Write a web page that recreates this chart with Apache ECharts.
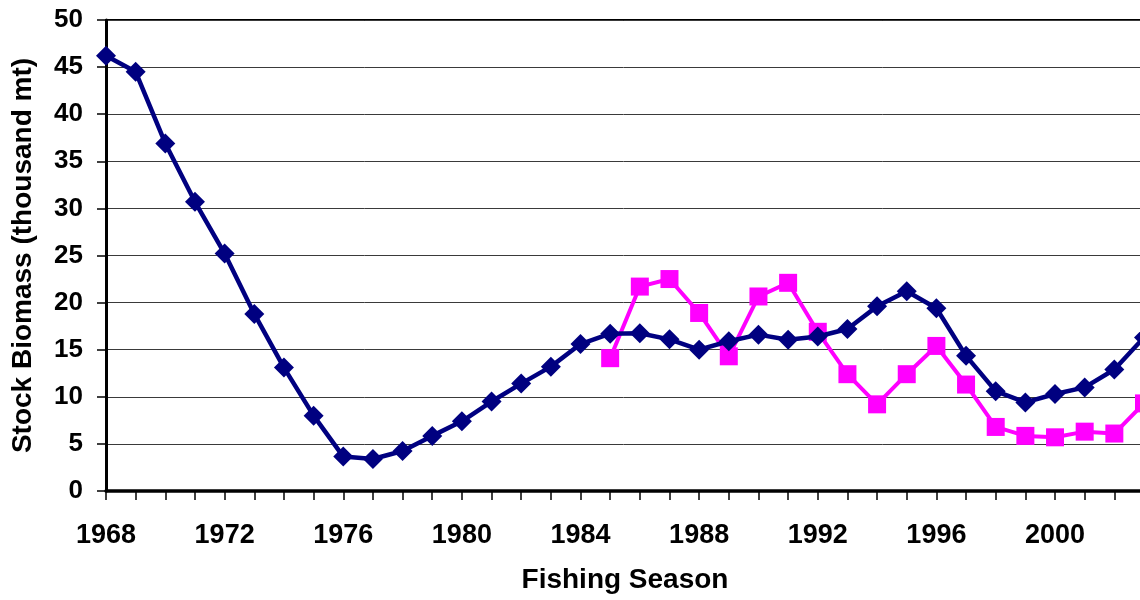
<!DOCTYPE html>
<html>
<head>
<meta charset="utf-8">
<script src="https://cdn.jsdelivr.net/npm/echarts@6/dist/echarts.min.js"></script>
<style>
  html, body { margin: 0; padding: 0; background: #fff; }
  #chart { width: 1140px; height: 600px; }
</style>
</head>
<body>
<div id="chart"></div>
<script>
// Fishing seasons 1968-2003
var years = [1968, 1969, 1970, 1971, 1972, 1973, 1974, 1975, 1976, 1977,
             1978, 1979, 1980, 1981, 1982, 1983, 1984, 1985, 1986, 1987,
             1988, 1989, 1990, 1991, 1992, 1993, 1994, 1995, 1996, 1997,
             1998, 1999, 2000, 2001, 2002, 2003];

// Stock biomass, model estimate (thousand mt)
var modelBiomass = [46.2, 44.5, 36.9, 30.7, 25.2, 18.8, 13.1, 8.0, 3.65, 3.4,
                    4.25, 5.85, 7.4, 9.5, 11.4, 13.2, 15.6, 16.7, 16.75, 16.1,
                    15.0, 15.9, 16.6, 16.05, 16.4, 17.2, 19.6, 21.2, 19.4, 14.35,
                    10.6, 9.4, 10.3, 11.0, 12.9, 16.3];

// Stock biomass, survey estimate from 1985 on (thousand mt)
var surveyYears = [1985, 1986, 1987, 1988, 1989, 1990, 1991, 1992, 1993, 1994,
                   1995, 1996, 1997, 1998, 1999, 2000, 2001, 2002, 2003];
var surveyBiomass = [14.1, 21.7, 22.5, 18.9, 14.3, 20.65, 22.1, 16.9, 12.4, 9.2,
                     12.4, 15.4, 11.3, 6.8, 5.85, 5.7, 6.3, 6.1, 9.3];

var yTicks = [0, 5, 10, 15, 20, 25, 30, 35, 40, 45, 50];

var font = 'Liberation Sans, Arial, sans-serif';

function pairs(xs, ys) {
  return xs.map(function (x, i) { return [x, ys[i]]; });
}

var chart = echarts.init(document.getElementById('chart'));
chart.setOption({
  animation: false,
  grid: {
    left: 106, right: -4, top: 20, bottom: 109,
    outerBoundsMode: 'none',
    containLabel: false,
    show: true, borderColor: '#000', borderWidth: 2, backgroundColor: 'transparent'
  },
  xAxis: {
    type: 'value',
    min: 1968, max: 2003, interval: 1,
    name: 'Fishing Season',
    nameLocation: 'middle',
    nameGap: 75,
    nameTextStyle: { fontFamily: font, fontWeight: 'bold', fontSize: 28, color: '#000' },
    axisLine: { show: true, lineStyle: { color: '#000', width: 3.5 } },
    axisTick: { show: true, inside: false, length: 9, lineStyle: { color: '#000', width: 1.5 } },
    axisLabel: {
      margin: 31,
      fontFamily: font, fontWeight: 'bold', fontSize: 27, color: '#000',
      showMinLabel: true, showMaxLabel: false,
      formatter: function (v) { return (v % 4 === 0) ? String(v) : ''; }
    },
    splitLine: { show: false }
  },
  yAxis: {
    type: 'value',
    min: yTicks[0], max: yTicks[yTicks.length - 1], interval: 5,
    name: 'Stock Biomass (thousand mt)',
    nameLocation: 'middle',
    nameGap: 69,
    nameTextStyle: { fontFamily: font, fontWeight: 'bold', fontSize: 28, color: '#000' },
    axisLine: { show: true, lineStyle: { color: '#000', width: 3 } },
    axisTick: { show: true, inside: false, length: 9, lineStyle: { color: '#000', width: 1.5 } },
    axisLabel: { margin: 23, fontFamily: font, fontWeight: 'bold', fontSize: 26, color: '#000' },
    splitLine: { show: true, lineStyle: { color: '#3a3a3a', width: 1 } }
  },
  series: [
    {
      name: 'Model estimate',
      type: 'line',
      data: pairs(years, modelBiomass),
      symbol: 'diamond',
      symbolSize: 20,
      clip: false,
      lineStyle: { color: '#000080', width: 4.5 },
      itemStyle: { color: '#000080' },
      z: 3
    },
    {
      name: 'Survey estimate',
      type: 'line',
      data: pairs(surveyYears, surveyBiomass),
      symbol: 'rect',
      symbolSize: 18,
      clip: false,
      lineStyle: { color: '#ff00ff', width: 4 },
      itemStyle: { color: '#ff00ff' },
      z: 2
    }
  ]
});
</script>
</body>
</html>
